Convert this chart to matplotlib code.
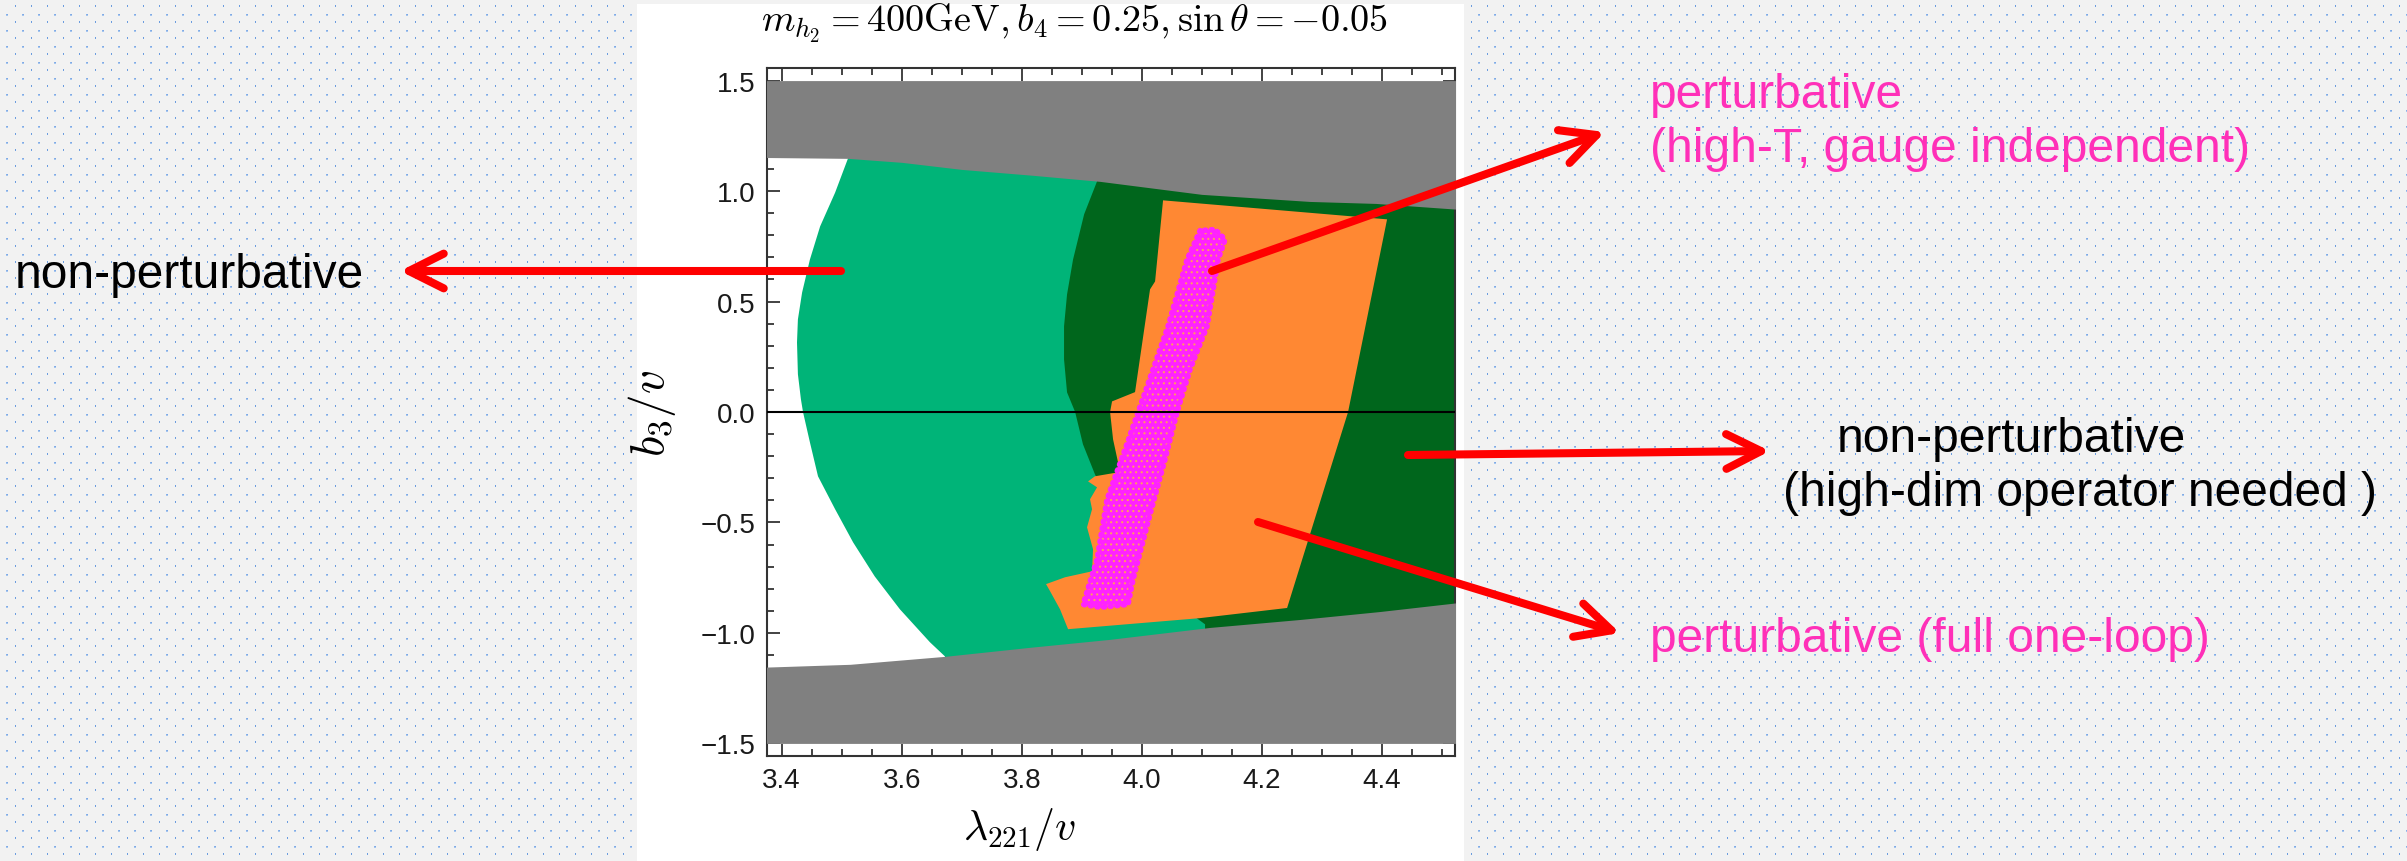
import numpy as np
import matplotlib
matplotlib.use("Agg")
import matplotlib.pyplot as plt
from matplotlib.patches import Polygon, Rectangle, FancyArrowPatch
from matplotlib.ticker import MultipleLocator

plt.rcParams['font.family'] = ['Liberation Sans', 'DejaVu Sans']
plt.rcParams['mathtext.fontset'] = 'cm'

W, H = 2407, 862

# ---- region boundaries (lambda221/v, b3/v) ----
# lower edge of the upper grey band
gray_top_x = [3.37, 3.51, 3.60, 3.70, 3.82, 3.93, 4.10, 4.28, 4.39, 4.53]
gray_top_y = [1.152, 1.148, 1.130, 1.098, 1.071, 1.044, 0.985, 0.953, 0.944, 0.917]
# upper edge of the lower grey band
gray_bot_x = [3.37, 3.514, 3.672, 3.814, 3.947, 4.114, 4.264, 4.397, 4.53]
gray_bot_y = [-1.155, -1.142, -1.106, -1.065, -1.029, -0.975, -0.939, -0.903, -0.862]

# left boundary of light green region
lgreen_x = [3.5105, 3.489, 3.464, 3.447, 3.434, 3.427, 3.4255, 3.427, 3.432,
            3.4355, 3.447, 3.4605, 3.489, 3.519, 3.555, 3.597, 3.647, 3.672]
lgreen_y = [1.148, 0.993, 0.840, 0.690, 0.541, 0.419, 0.315, 0.171, 0.058,
            0.0, -0.137, -0.291, -0.440, -0.590, -0.744, -0.893, -1.042, -1.106]

# left boundary of dark green region
dgreen_x = [3.9255, 3.904, 3.8855, 3.8755, 3.8705, 3.8705, 3.8755, 3.889,
            3.902, 3.922, 3.948, 3.9805, 4.012, 4.047, 4.080, 4.1055]
dgreen_y = [1.044, 0.895, 0.690, 0.532, 0.388, 0.238, 0.089, 0.0,
            -0.146, -0.282, -0.430, -0.576, -0.706, -0.825, -0.910, -0.961]

# orange region (full one-loop perturbative)
orange_x = [4.0355, 4.4088, 4.3438, 4.2422, 4.097, 3.8772, 3.8638, 3.8472, 3.8405,
            3.8722, 3.9172, 3.9188, 3.9088, 3.9172, 3.9138, 3.9255, 3.9105, 3.922,
            3.9605, 3.9605, 3.9522, 3.9472, 3.9505, 3.9888, 4.0138, 4.0222]
orange_y = [0.958, 0.872, 0.0, -0.887, -0.933, -0.983, -0.893, -0.811, -0.779,
            -0.748, -0.721, -0.621, -0.522, -0.440, -0.395, -0.341, -0.314, -0.291,
            -0.273, -0.228, -0.124, 0.0, 0.048, 0.090, 0.555, 0.591]

# magenta strip (high-T, gauge independent)
magenta_x = [4.0972, 4.0755, 4.0438, 4.0055, 3.9722, 3.9422, 3.9255, 3.9022,
             3.9305, 3.9772, 3.9855, 4.0138, 4.0388, 4.0588, 4.0805, 4.1088,
             4.1272, 4.1388, 4.1222]
magenta_y = [0.821, 0.690, 0.388, 0.089, -0.169, -0.395, -0.667, -0.871,
             -0.884, -0.871, -0.758, -0.463, -0.214, 0.0, 0.193, 0.388,
             0.690, 0.781, 0.826]

c_gray = '#808080'
c_lgreen = '#00b478'
c_dgreen = '#00661c'
c_orange = '#ff8833'
c_magenta = '#ff22ff'
c_pink = '#ff30b8'

fig = plt.figure(figsize=(W / 100, H / 100), dpi=100)

# dotted slide background
bg = np.full((H, W, 3), 242, dtype=np.uint8)
bg[15::16, 6::16] = (135, 176, 232)
bg[15::16, 7::16] = (125, 168, 228)
bg[16::16, 6::16] = (165, 197, 238)
bg[16::16, 7::16] = (165, 197, 238)
bg[6::16, 15::16] = (105, 155, 222)
bg[7::16, 15::16] = (110, 158, 224)
fig.figimage(bg, 0, 0, zorder=0)

fig.add_artist(Rectangle((637 / W, 0), (1464 - 637) / W, (H - 5) / H,
                         transform=fig.transFigure, facecolor='white',
                         edgecolor='none', zorder=1))

ax = fig.add_axes([767 / W, (H - 757) / H, (1455 - 767) / W, (757 - 69) / H])
ax.set_zorder(2)
ax.set_facecolor('white')

ax.add_patch(Polygon(list(zip(lgreen_x + [3.672, 4.6, 4.6, 3.5105],
                              lgreen_y + [-1.3, -1.3, 1.3, 1.3])),
                     closed=True, facecolor=c_lgreen, edgecolor='none', zorder=1))
ax.add_patch(Polygon(list(zip(dgreen_x + [4.1055, 4.6, 4.6, 3.9255],
                              dgreen_y + [-1.3, -1.3, 1.3, 1.3])),
                     closed=True, facecolor=c_dgreen, edgecolor='none', zorder=2))
ax.fill_between(gray_top_x, gray_top_y, 1.5, color=c_gray, lw=0, zorder=3)
ax.fill_between(gray_bot_x, gray_bot_y, -1.5, color=c_gray, lw=0, zorder=3)
ax.add_patch(Polygon(list(zip(orange_x, orange_y)), closed=True,
                     facecolor=c_orange, edgecolor='none', zorder=4))

plt.rcParams['hatch.color'] = '#ff9a60'
plt.rcParams['hatch.linewidth'] = 0.8
ax.add_patch(Polygon(list(zip(magenta_x, magenta_y)), closed=True,
                     facecolor=c_magenta, edgecolor='#ff9a60', lw=0,
                     hatch='...', zorder=5))
ax.add_patch(Polygon(list(zip(magenta_x, magenta_y)), closed=True, fill=False,
                     edgecolor=c_magenta, lw=4, linestyle=(0, (0.2, 1.0)),
                     capstyle='round', zorder=5))

ax.axhline(0, color='black', lw=1.5, zorder=6)

ax.set_xlim(3.3755, 4.522)
ax.set_ylim(-1.557, 1.557)
ax.xaxis.set_major_locator(MultipleLocator(0.2))
ax.xaxis.set_minor_locator(MultipleLocator(0.05))
ax.yaxis.set_major_locator(MultipleLocator(0.5))
ax.yaxis.set_minor_locator(MultipleLocator(0.1))
ax.tick_params(which='both', direction='in', top=True, right=True,
               width=1.2, color='#222222', labelsize=20, labelcolor='#1a1a1a')
ax.tick_params(which='major', length=9, pad=8)
ax.tick_params(which='minor', length=5)
for s in ax.spines.values():
    s.set_color('#333333')
    s.set_linewidth(1.5)

fig.text(1075 / W, 1 - 23 / H,
         r'$m_{h_2}=400\mathrm{GeV}, b_4=0.25, \sin\theta=-0.05$',
         ha='center', va='center', fontsize=27.5)
fig.text(1020 / W, 1 - 830 / H, r'$\lambda_{221}/v$', ha='center', va='center',
         fontsize=30)
fig.text(652 / W, 1 - 413 / H, r'$b_3/v$', ha='center', va='center',
         fontsize=34, rotation=90)

# annotations
notes = [
    ("non-perturbative", 15, 276, 'black'),
    ("perturbative", 1650, 96, c_pink),
    ("(high-T, gauge independent)", 1650, 149, c_pink),
    ("non-perturbative", 1837, 439, 'black'),
    ("(high-dim operator needed )", 1783, 493, 'black'),
    ("perturbative (full one-loop)", 1650, 640, c_pink),
]
for txt, x, y, col in notes:
    fig.text(x / W, 1 - y / H, txt, color=col, fontsize=34.5, ha='left',
             va='center', zorder=10)

arrows = [((841, 272), (400, 272)),
          ((1212, 272), (1605, 133)),
          ((1408, 456), (1770, 452)),
          ((1258, 523), (1620, 634))]
for (x0, y0), (x1, y1) in arrows:
    fig.add_artist(FancyArrowPatch((x0 / W, 1 - y0 / H), (x1 / W, 1 - y1 / H),
                                   transform=fig.transFigure,
                                   arrowstyle='->,head_length=2.0,head_width=1.0',
                                   mutation_scale=12.5, color='#ff0000', lw=5.8,
                                   shrinkA=0, shrinkB=0, capstyle='round',
                                   joinstyle='round', zorder=20))

fig.savefig('out.png', dpi=100)
